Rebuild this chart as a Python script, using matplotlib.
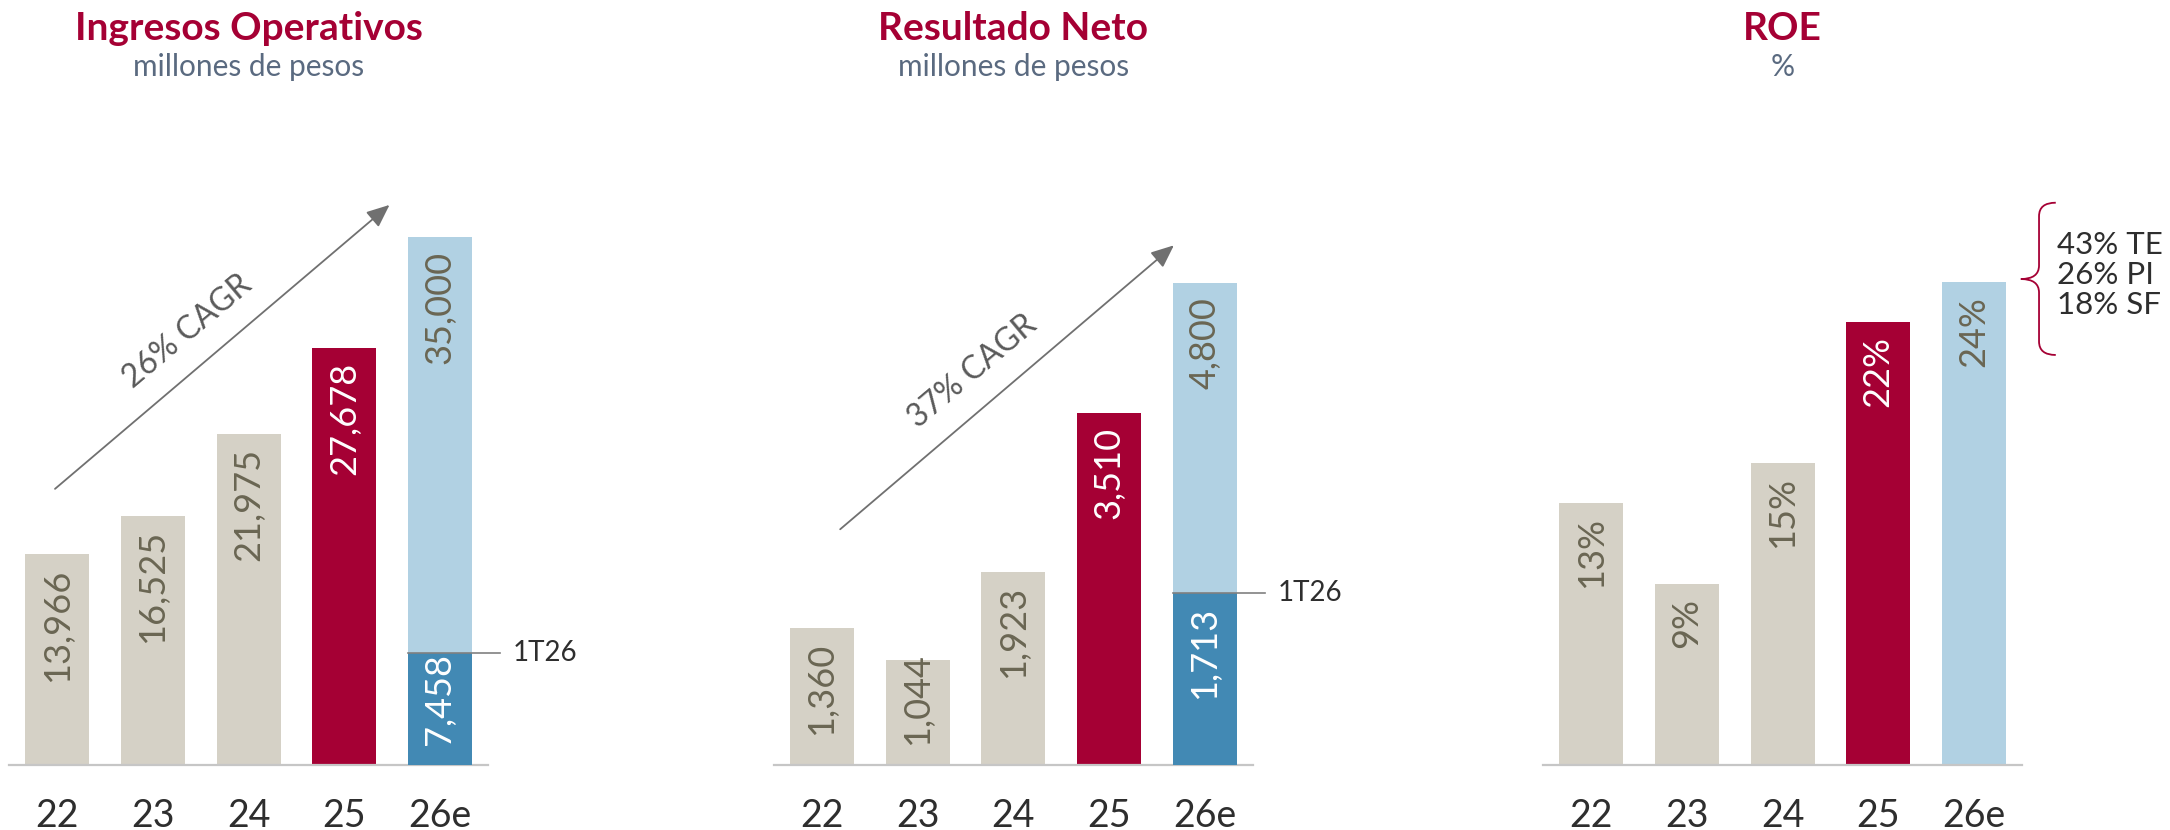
import matplotlib
matplotlib.use("Agg")
import matplotlib.pyplot as plt
from matplotlib.path import Path
from matplotlib.patches import PathPatch

# ---- data -------------------------------------------------------------
years = ["22", "23", "24", "25", "26e"]

ingresos = [13966, 16525, 21975, 27678, 35000]
ingresos_1t26 = 7458

resultado = [1360, 1044, 1923, 3510, 4800]
resultado_1t26 = 1713

roe = [13, 9, 15, 22, 24]
roe_desglose = ["43% TE", "26% PI", "18% SF"]

titulos = ["Ingresos Operativos", "Resultado Neto", "ROE"]
subtitulos = ["millones de pesos", "millones de pesos", "%"]
cagr = ["26% CAGR", "37% CAGR"]
etiqueta_trimestre = "1T26"

# ---- style ------------------------------------------------------------
plt.rcParams["font.family"] = ["Lato", "DejaVu Sans"]

RED = "#A50034"
SAND = "#D5D1C6"
LIGHT_BLUE = "#B1D1E3"
DARK_BLUE = "#4289B4"
LABEL_DARK = "#6A6653"
TICK_COLOR = "#2E2E2E"
SUB_COLOR = "#5A6A80"
ARROW_COLOR = "#707070"
AXIS_COLOR = "#C6C6C6"

bar_colors = [SAND, SAND, SAND, RED, LIGHT_BLUE]
label_colors = [LABEL_DARK, LABEL_DARK, LABEL_DARK, "white", LABEL_DARK]

W, H = 2170, 830
fig = plt.figure(figsize=(W / 100, H / 100), dpi=100)

AX_W, AX_H, AX_BOTTOM = 478.5, 615, 65
panel_left = [9.3, 774, 1543.3]
y_top = [40775, 6125, 30.57]
BAR_W = 0.668
LABEL_PAD = 14

axes = []
for left, ymax in zip(panel_left, y_top):
    ax = fig.add_axes([left / W, AX_BOTTOM / H, AX_W / W, AX_H / H])
    ax.set_xlim(-0.5, 4.5)
    ax.set_ylim(0, ymax)
    for s in ("top", "right", "left"):
        ax.spines[s].set_visible(False)
    ax.spines["bottom"].set_color(AXIS_COLOR)
    ax.spines["bottom"].set_linewidth(1.6)
    ax.set_yticks([])
    ax.set_xticks(range(len(years)))
    ax.set_xticklabels(years, fontsize=27, color=TICK_COLOR)
    ax.tick_params(axis="x", length=0, pad=24)
    axes.append(ax)

value_labels = []


def bar_label(ax, x, top, text, color):
    t = ax.annotate(text, xy=(x, top), xytext=(0, -LABEL_PAD),
                    textcoords="offset pixels", rotation=90,
                    ha="center", va="top", fontsize=26, color=color)
    value_labels.append((ax, t))


def draw_bars(ax, values, fmt):
    xs = range(len(values))
    ax.bar(xs, values, width=BAR_W, color=bar_colors, zorder=2)
    for x, v, c in zip(xs, values, label_colors):
        bar_label(ax, x, v, fmt(v), c)


def draw_quarter(ax, value):
    x = len(years) - 1
    ax.bar([x], [value], width=BAR_W, color=DARK_BLUE, zorder=3)
    bar_label(ax, x, value, f"{value:,}", "white")
    ax.plot([x - BAR_W / 2, 4.63], [value, value], color="#808080",
            lw=1.2, clip_on=False, zorder=4)
    ax.text(4.765, value, etiqueta_trimestre, fontsize=20, color=TICK_COLOR,
            va="center", ha="left", clip_on=False)


def draw_trend(ax, start, end, text, text_pos):
    ax.annotate("", xy=end, xytext=start, xycoords="axes fraction",
                textcoords="axes fraction",
                arrowprops=dict(arrowstyle="-|>,head_length=0.7,head_width=0.3",
                                color=ARROW_COLOR, lw=1.3, shrinkA=0,
                                shrinkB=0, mutation_scale=20))
    ax.text(*text_pos, text, transform=ax.transAxes, rotation=40,
            rotation_mode="anchor", ha="center", va="center",
            fontsize=23, color="#5A5A5A")


# Ingresos Operativos
draw_bars(axes[0], ingresos, lambda v: f"{v:,}")
draw_quarter(axes[0], ingresos_1t26)
draw_trend(axes[0], (0.0955, 0.449), (0.7946, 0.9107), cagr[0], (0.373, 0.705))

# Resultado Neto
draw_bars(axes[1], resultado, lambda v: f"{v:,}")
draw_quarter(axes[1], resultado_1t26)
draw_trend(axes[1], (0.1383, 0.3833), (0.8357, 0.845), cagr[1], (0.4146, 0.64))

# ROE
draw_bars(axes[2], roe, lambda v: f"{v}%")

# curly brace with the ROE breakdown
ax = axes[2]
bx, tip, hook = 1.036, 0.998, 1.071
yt, ym, yb = 0.9143, 0.7902, 0.6667
r = 0.022
verts = [(hook, yt), (bx, yt), (bx, yt - r),
         (bx, ym + r), (bx, ym), (tip, ym),
         (bx, ym), (bx, ym - r),
         (bx, yb + r), (bx, yb), (hook, yb)]
codes = [Path.MOVETO, Path.CURVE3, Path.CURVE3,
         Path.LINETO, Path.CURVE3, Path.CURVE3,
         Path.CURVE3, Path.CURVE3,
         Path.LINETO, Path.CURVE3, Path.CURVE3]
ax.add_patch(PathPatch(Path(verts, codes), transform=ax.transAxes,
                       fill=False, edgecolor=RED, lw=1.3, clip_on=False))
for i, s in enumerate(roe_desglose):
    ax.text(1.073, 0.8463 - i * 0.0488, s, transform=ax.transAxes,
            fontsize=22.5, color=TICK_COLOR, va="center", ha="left")

# titles
for ax, t, s in zip(axes, titulos, subtitulos):
    cx = (ax.get_position().x0 + ax.get_position().x1) / 2
    fig.text(cx, 1 - 40 / H, t, ha="center", va="baseline", fontsize=28,
             fontweight="bold", color=RED)
    fig.text(cx, 1 - 76 / H, s, ha="center", va="baseline", fontsize=21.5,
             color=SUB_COLOR)

# keep short-bar labels clear of the baseline
fig.canvas.draw()
renderer = fig.canvas.get_renderer()
for ax, t in value_labels:
    bb = t.get_window_extent(renderer)
    base = ax.transData.transform((0, 0))[1]
    if bb.y0 < base + 20:
        t.xyann = (0, -LABEL_PAD + (base + 20 - bb.y0))

fig.savefig("out.png", dpi=100, facecolor="white")
